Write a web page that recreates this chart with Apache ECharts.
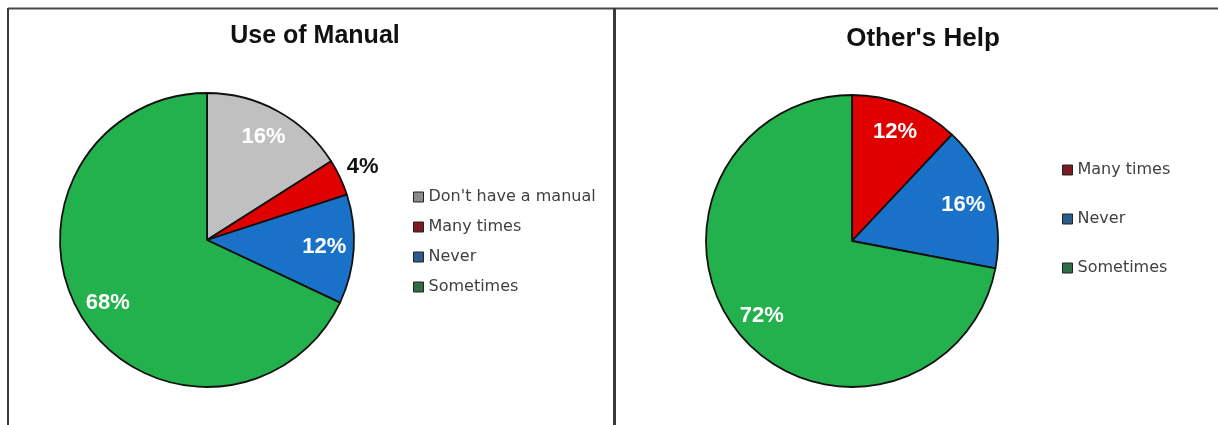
<!DOCTYPE html>
<html>
<head>
<meta charset="utf-8">
<title>Use of Manual / Other's Help</title>
<script src="https://cdn.jsdelivr.net/npm/echarts@6/dist/echarts.min.js"></script>
<style>
  html, body { margin: 0; padding: 0; background: #fff; }
  #main { width: 1218px; height: 425px; }
</style>
</head>
<body>
<div id="main"></div>
<script>
// data
var manualNames = ["Don't have a manual", 'Many times', 'Never', 'Sometimes']
var manualValues = [16, 4, 12, 68]
var helpNames = ['Many times', 'Never', 'Sometimes']
var helpValues = [12, 16, 72]

var sliceColors = {
  "Don't have a manual": '#c0c0c0',
  'Many times': '#e00000',
  'Never': '#1a72c8',
  'Sometimes': '#22b14c'
}
// legend swatches look darker than the slices
var swatchColors = {
  "Don't have a manual": '#8c8c8c',
  'Many times': '#7a1c22',
  'Never': '#2b5d8c',
  'Sometimes': '#2f6e45'
}

var myChart = echarts.init(document.getElementById('main'))

function sliceData(names, values) {
  let arr = []
  for (let i = 0; i < names.length; i++) {
    arr.push({ name: names[i], value: values[i], itemStyle: { color: sliceColors[names[i]] } })
  }
  return arr
}

// transparent ring only used to place the percent labels
function labelData(names, values, show) {
  let arr = []
  for (let i = 0; i < names.length; i++) {
    arr.push({
      name: names[i],
      value: values[i],
      label: { show: show(values[i]) }
    })
  }
  return arr
}

function legendData(names) {
  return names.map(function (n) {
    return { name: n, itemStyle: { color: swatchColors[n], borderColor: '#222', borderWidth: 1 } }
  })
}

var labelText = {
  show: true,
  position: 'inside',
  formatter: '{c}%',
  fontFamily: 'Liberation Sans, Arial, sans-serif',
  fontWeight: 'bold',
  fontSize: 22,
  color: '#fff'
}

var baseLabelSeries = {
  type: 'pie',
  silent: true,
  startAngle: 90,
  clockwise: true,
  avoidLabelOverlap: false,
  itemStyle: { color: 'rgba(0,0,0,0)', borderWidth: 0 },
  labelLine: { show: false },
  emphasis: { disabled: true },
  animation: false
}

var legendText = {
  fontFamily: 'DejaVu Sans, sans-serif',
  fontSize: 16,
  lineHeight: 16,
  color: '#404040'
}

var option = {
  animation: false,
  title: [
    {
      text: 'Use of Manual',
      left: 310,
      top: 19,
      textAlign: 'center',
      textStyle: { fontFamily: 'Liberation Sans, Arial, sans-serif', fontWeight: 'bold', fontSize: 25, color: '#111' }
    },
    {
      text: "Other's Help",
      left: 918,
      top: 21,
      textAlign: 'center',
      textStyle: { fontFamily: 'Liberation Sans, Arial, sans-serif', fontWeight: 'bold', fontSize: 26, color: '#111' }
    }
  ],
  legend: [
    {
      orient: 'vertical',
      left: 413,
      top: 189,
      padding: 0,
      itemWidth: 10,
      itemHeight: 10,
      itemGap: 14,
      selectedMode: false,
      icon: 'rect',
      textStyle: legendText,
      data: legendData(manualNames)
    },
    {
      orient: 'vertical',
      left: 1062,
      top: 162,
      padding: 0,
      itemWidth: 10,
      itemHeight: 10,
      itemGap: 33,
      selectedMode: false,
      icon: 'rect',
      textStyle: legendText,
      data: legendData(helpNames)
    }
  ],
  graphic: [
    { type: 'line', shape: { x1: 8, y1: 8.5, x2: 1218, y2: 8.5 }, style: { stroke: '#4a4a4a', lineWidth: 2 } },
    { type: 'line', shape: { x1: 8, y1: 8, x2: 8, y2: 425 }, style: { stroke: '#3a3a3a', lineWidth: 2 } },
    { type: 'line', shape: { x1: 614.5, y1: 8, x2: 614.5, y2: 425 }, style: { stroke: '#3a3a3a', lineWidth: 3 } }
  ],
  series: [
    {
      name: 'Use of Manual',
      type: 'pie',
      center: [207, 240],
      radius: [0, 147],
      startAngle: 90,
      clockwise: true,
      silent: true,
      label: { show: false },
      labelLine: { show: false },
      itemStyle: { borderColor: '#111', borderWidth: 1.8 },
      data: sliceData(manualNames, manualValues)
    },
    Object.assign({}, baseLabelSeries, {
      center: [207, 240],
      radius: [82, 147],
      label: labelText,
      data: labelData(manualNames, manualValues, function (v) { return v > 5 })
    }),
    Object.assign({}, baseLabelSeries, {
      center: [207, 240],
      radius: [147, 191],
      label: Object.assign({}, labelText, { color: '#111' }),
      data: labelData(manualNames, manualValues, function (v) { return v <= 5 })
    }),
    {
      name: "Other's Help",
      type: 'pie',
      center: [852, 241],
      radius: [0, 146],
      startAngle: 90,
      clockwise: true,
      silent: true,
      label: { show: false },
      labelLine: { show: false },
      itemStyle: { borderColor: '#111', borderWidth: 1.8 },
      data: sliceData(helpNames, helpValues)
    },
    Object.assign({}, baseLabelSeries, {
      center: [852, 241],
      radius: [82, 146],
      label: labelText,
      data: labelData(helpNames, helpValues, function (v) { return true })
    })
  ]
}

myChart.setOption(option)
</script>
</body>
</html>
